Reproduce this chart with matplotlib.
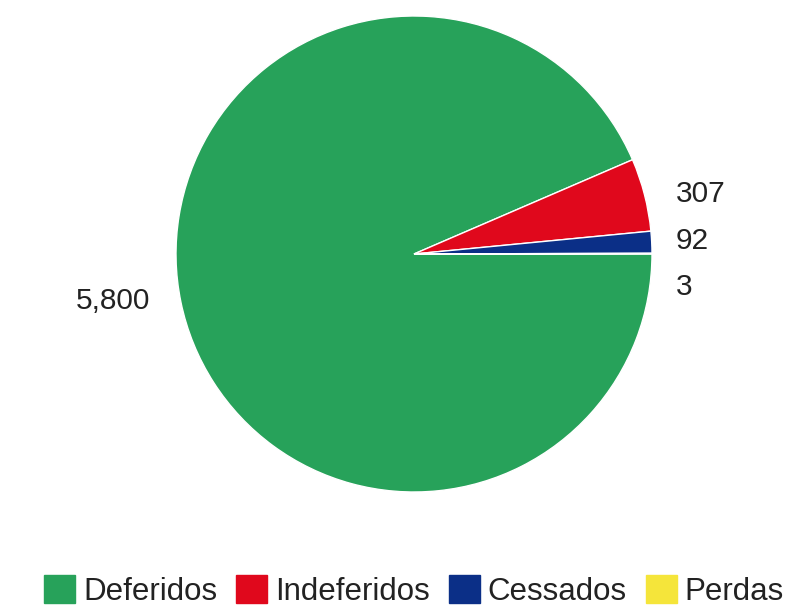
import matplotlib.pyplot as plt
from matplotlib.patches import Patch

plt.rcParams['font.family'] = ['Liberation Sans', 'DejaVu Sans']

# Dados
categorias = ['Deferidos', 'Indeferidos', 'Cessados', 'Perdas']
valores = [5800, 307, 92, 3]
rotulos = ['5,800', '307', '92', '3']
cores = ['#27a25a', '#e0081c', '#0b2f87', '#f5e53a']

fig = plt.figure(figsize=(7.93, 6.11), dpi=100)
ax = fig.add_axes([0, 0, 1, 1])

ax.pie(valores, colors=cores, startangle=0, counterclock=False,
       center=(414, 357), radius=238,
       wedgeprops=dict(edgecolor='white', linewidth=1))

# pie() mexe nos limites, entao define depois
ax.set_xlim(0, 793)
ax.set_ylim(0, 611)
ax.set_aspect('equal')
ax.axis('off')

# rotulos (estilo "labeled" do Google Charts)
fs = 21.5
ax.text(150, 310, rotulos[0], ha='right', va='center', fontsize=fs, color='#222222')
ax.text(676, 417, rotulos[1], ha='left', va='center', fontsize=fs, color='#222222')
ax.text(676, 370, rotulos[2], ha='left', va='center', fontsize=fs, color='#222222')
ax.text(676, 324, rotulos[3], ha='left', va='center', fontsize=fs, color='#222222')

handles = [Patch(facecolor=c, edgecolor=c) for c in cores]
fig.legend(handles, categorias, loc='center', bbox_to_anchor=(414 / 793, 1 - 591 / 611),
           ncol=4, frameon=False, fontsize=22.5, handlelength=1.0, handleheight=1.0,
           handletextpad=0.25, columnspacing=0.6, labelcolor='#222222',
           borderpad=0, borderaxespad=0)

fig.savefig('out.png', dpi=100)
